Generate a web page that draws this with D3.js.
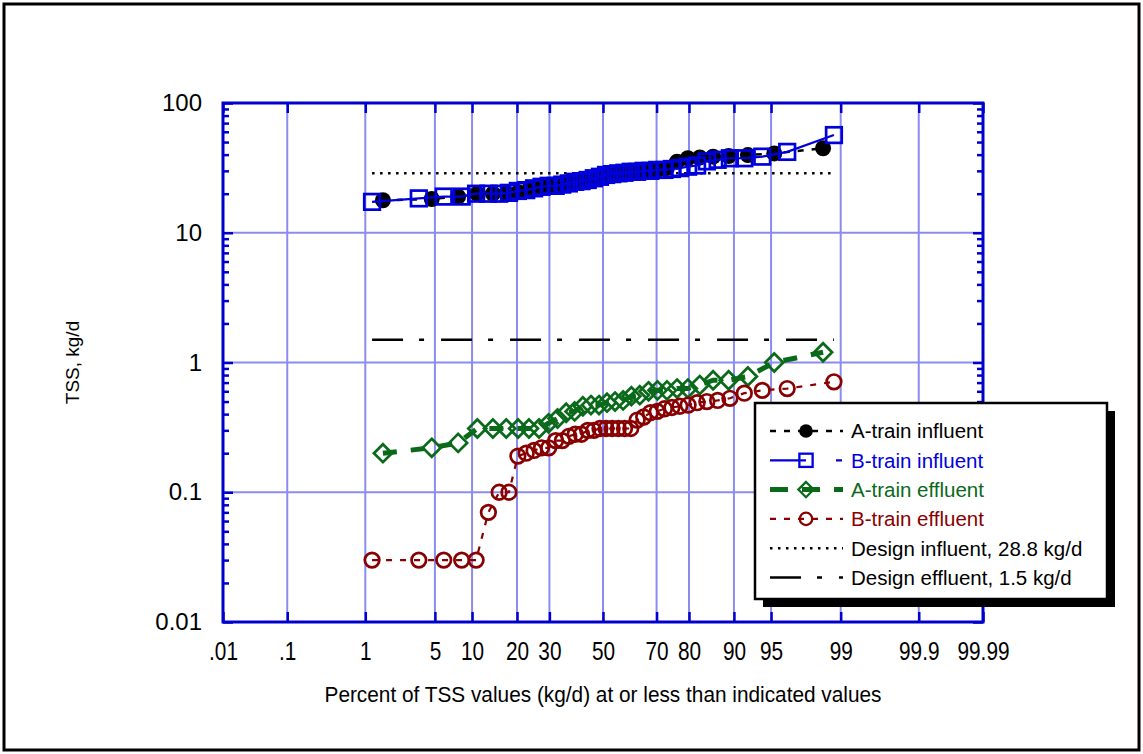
<!DOCTYPE html>
<html>
<head>
<meta charset="utf-8">
<script src="https://cdn.jsdelivr.net/npm/d3@7"></script>
<style>
  html, body { margin: 0; padding: 0; background: #fff; }
  svg { display: block; font-family: "Liberation Sans", Arial, sans-serif; }
</style>
</head>
<body>
<svg id="chart" width="1143" height="754"></svg>
<script>
// ---- data: sorted daily TSS loads (kg/d) ----
const aInfluent = [17.8, 18.2, 19.0, 20.0, 20.0, 20.2, 20.5, 21.5, 22.5, 23.0, 23.5, 24.0,
  24.5, 25.0, 26.0, 27.0, 27.5, 28.0, 28.5, 29.0, 29.5, 30.0, 30.5, 31.5,
  35.3, 37.5, 38.0, 38.6, 39.0, 39.7, 40.9, 44.8];
const bInfluent = [17.3, 18.4, 19.0, 19.0, 20.0, 20.0, 20.0, 20.3, 21.0, 21.3, 22.0, 22.6,
  23.0, 23.0, 23.5, 24.0, 24.7, 25.0, 25.5, 26.3, 27.0, 27.9, 28.3, 28.7,
  29.0, 29.5, 29.5, 30.0, 30.0, 30.5, 30.5, 31.0, 31.5, 32.3, 33.0, 35.5,
  36.5, 37.5, 37.5, 38.6, 42.0, 56.6];
const aEffluent = [0.20, 0.22, 0.24, 0.31, 0.31, 0.31, 0.31, 0.31, 0.31, 0.34, 0.37, 0.41,
  0.42, 0.46, 0.47, 0.47, 0.49, 0.50, 0.51, 0.55, 0.56, 0.60, 0.61, 0.61,
  0.63, 0.63, 0.67, 0.73, 0.73, 0.78, 1.0, 1.2];
const bEffluent = [0.03, 0.03, 0.03, 0.03, 0.03, 0.07, 0.10, 0.10, 0.19, 0.20, 0.21, 0.22,
  0.22, 0.25, 0.25, 0.27, 0.28, 0.28, 0.30, 0.30, 0.31, 0.31, 0.31, 0.31,
  0.31, 0.31, 0.36, 0.38, 0.41, 0.42, 0.44, 0.45, 0.46, 0.47, 0.49, 0.50,
  0.51, 0.53, 0.58, 0.61, 0.63, 0.71];

// design loads (kg/d)
const designInfluent = 28.8;
const designEffluent = 1.5;

// ---- axis ticks ----
const xTickPercents = [0.01, 0.1, 1, 5, 10, 20, 30, 50, 70, 80, 90, 95, 99, 99.9, 99.99];
const xTickLabels = [".01", ".1", "1", "5", "10", "20", "30", "50", "70", "80", "90", "95", "99", "99.9", "99.99"];
const yTickValues = [0.01, 0.1, 1, 10, 100];
const yTickLabels = ["0.01", "0.1", "1", "10", "100"];

const legendLabels = ["A-train influent", "B-train influent", "A-train effluent", "B-train effluent",
  "Design influent, 28.8 kg/d", "Design effluent, 1.5 kg/d"];

// ---- inverse standard normal CDF (Acklam) for the probability axis ----
function probit(p) {
  const a = [-3.969683028665376e+01, 2.209460984245205e+02, -2.759285104469687e+02, 1.383577518672690e+02, -3.066479806614716e+01, 2.506628277459239e+00];
  const b = [-5.447609879822406e+01, 1.615858368580409e+02, -1.556989798598866e+02, 6.680131188771972e+01, -1.328068155288572e+01];
  const c = [-7.784894002430293e-03, -3.223964580411365e-01, -2.400758277161838e+00, -2.549732539343734e+00, 4.374664141464968e+00, 2.938163982698783e+00];
  const d = [7.784695709041462e-03, 3.224671290700398e-01, 2.445134137142996e+00, 3.754408661907416e+00];
  const pl = 0.02425, ph = 1 - pl;
  if (p < pl) {
    const q = Math.sqrt(-2 * Math.log(p));
    return (((((c[0]*q+c[1])*q+c[2])*q+c[3])*q+c[4])*q+c[5]) / ((((d[0]*q+d[1])*q+d[2])*q+d[3])*q+1);
  }
  if (p <= ph) {
    const q = p - 0.5, r = q * q;
    return (((((a[0]*r+a[1])*r+a[2])*r+a[3])*r+a[4])*r+a[5])*q / (((((b[0]*r+b[1])*r+b[2])*r+b[3])*r+b[4])*r+1);
  }
  const q = Math.sqrt(-2 * Math.log(1 - p));
  return -(((((c[0]*q+c[1])*q+c[2])*q+c[3])*q+c[4])*q+c[5]) / ((((d[0]*q+d[1])*q+d[2])*q+d[3])*q+1);
}

// Hazen plotting positions (percent) for a sorted sample
const hazen = arr => arr.map((v, i) => ({ p: (i + 0.5) / arr.length * 100, v }));

// ---- layout ----
const plotL = 223, plotR = 983, plotT = 103, plotB = 622;
const svg = d3.select("#chart");

const xz = d3.scaleLinear().domain([probit(0.0001), probit(0.9999)]).range([plotL, plotR]);
const x = pct => xz(probit(pct / 100));
const y = d3.scaleLog().domain([0.01, 100]).range([plotB, plotT]);

const BLUE = "#0000cc", GRID = "#8c8cf0";
const C_A_INF = "#000000", C_B_INF = "#0000dd", C_A_EFF = "#0a6a1a", C_B_EFF = "#880000";

// outer frame
svg.append("rect").attr("x", 4).attr("y", 4).attr("width", 1135).attr("height", 746)
  .attr("fill", "#fff").attr("stroke", "#000").attr("stroke-width", 3);

// grid
const grid = svg.append("g");
xTickPercents.slice(1, -1).forEach(p => {
  grid.append("line").attr("x1", x(p)).attr("x2", x(p)).attr("y1", plotT).attr("y2", plotB)
    .attr("stroke", GRID).attr("stroke-width", 2);
});
yTickValues.slice(1, -1).forEach(v => {
  grid.append("line").attr("x1", plotL).attr("x2", plotR).attr("y1", y(v)).attr("y2", y(v))
    .attr("stroke", GRID).attr("stroke-width", 2);
});

// axes
const xTickZ = xTickPercents.map(p => probit(p / 100));
const gx = svg.append("g").attr("transform", `translate(0,${plotB})`)
  .call(d3.axisBottom(xz).tickValues(xTickZ).tickFormat((d, i) => xTickLabels[i])
    .tickSizeInner(-10).tickSizeOuter(0).tickPadding(20));
const gxTop = svg.append("g").attr("transform", `translate(0,${plotT})`)
  .call(d3.axisTop(xz).tickValues(xTickZ).tickFormat("").tickSizeInner(-10).tickSizeOuter(0));

const yMinor = [];
for (let dec = 0.01; dec < 100; dec *= 10) for (let k = 2; k <= 9; k++) yMinor.push(+(dec * k).toPrecision(3));

const gy = svg.append("g").attr("transform", `translate(${plotL},0)`)
  .call(d3.axisLeft(y).tickValues(yTickValues).tickFormat((d, i) => yTickLabels[i])
    .tickSizeInner(-10).tickSizeOuter(0).tickPadding(21));
const gyMinor = svg.append("g").attr("transform", `translate(${plotL},0)`)
  .call(d3.axisLeft(y).tickValues(yMinor).tickFormat("").tickSizeInner(-6).tickSizeOuter(0));
const gyR = svg.append("g").attr("transform", `translate(${plotR},0)`)
  .call(d3.axisRight(y).tickValues(yTickValues).tickFormat("").tickSizeInner(-10).tickSizeOuter(0));
const gyRMinor = svg.append("g").attr("transform", `translate(${plotR},0)`)
  .call(d3.axisRight(y).tickValues(yMinor).tickFormat("").tickSizeInner(-6).tickSizeOuter(0));

[gx, gxTop, gy, gyMinor, gyR, gyRMinor].forEach(g => {
  g.select(".domain").remove();
  g.selectAll(".tick line").attr("stroke", BLUE).attr("stroke-width", 2.5);
});
gy.selectAll(".tick text").attr("font-size", 24).attr("fill", "#000")
  .attr("font-family", "'Liberation Sans', Arial, sans-serif");
gx.selectAll(".tick text").attr("font-size", 26).attr("fill", "#000")
  .attr("font-family", "'Liberation Sans', Arial, sans-serif")
  .each(function () {
    const w = this.getComputedTextLength();
    d3.select(this).attr("textLength", w * 0.8).attr("lengthAdjust", "spacingAndGlyphs");
  });

// plot frame
svg.append("rect").attr("x", plotL).attr("y", plotT).attr("width", plotR - plotL).attr("height", plotB - plotT)
  .attr("fill", "none").attr("stroke", BLUE).attr("stroke-width", 3);

// axis titles
const xTitle = svg.append("text").attr("x", (plotL + plotR) / 2).attr("y", 702).attr("text-anchor", "middle")
  .attr("font-size", 22).text("Percent of TSS values (kg/d) at or less than indicated values");
xTitle.attr("textLength", 557).attr("lengthAdjust", "spacingAndGlyphs");
svg.append("text").attr("transform", `translate(79,${(plotT + plotB) / 2}) rotate(-90)`)
  .attr("text-anchor", "middle").attr("font-size", 19).text("TSS, kg/d");

// design lines, spanning the plotted range of the larger sample
const span = d3.extent(hazen(bInfluent), d => d.p);
svg.append("line").attr("x1", x(span[0])).attr("x2", x(span[1]))
  .attr("y1", y(designInfluent)).attr("y2", y(designInfluent))
  .attr("stroke", "#000").attr("stroke-width", 2.5).attr("stroke-dasharray", "2.5,5.5");
svg.append("line").attr("x1", x(span[0])).attr("x2", x(span[1]))
  .attr("y1", y(designEffluent)).attr("y2", y(designEffluent))
  .attr("stroke", "#000").attr("stroke-width", 2.5).attr("stroke-dasharray", "31,16,5,17");

// series
const line = d3.line().x(d => x(d.p)).y(d => y(d.v));
const series = [
  { data: hazen(aEffluent), color: C_A_EFF, width: 5, dash: "14,14", marker: "diamond" },
  { data: hazen(bEffluent), color: C_B_EFF, width: 2.2, dash: "6,8", marker: "circle" },
  { data: hazen(aInfluent), color: C_A_INF, width: 2.5, dash: "6,8", marker: "dot" },
  { data: hazen(bInfluent), color: C_B_INF, width: 2.2, dash: null, marker: "square" }
];

function drawMarker(g, kind, color, cx, cy) {
  if (kind === "dot") {
    g.append("circle").attr("cx", cx).attr("cy", cy).attr("r", 8).attr("fill", color);
  } else if (kind === "circle") {
    g.append("circle").attr("cx", cx).attr("cy", cy).attr("r", 7.3)
      .attr("fill", "none").attr("stroke", color).attr("stroke-width", 2.7);
  } else if (kind === "square") {
    g.append("rect").attr("x", cx - 7.8).attr("y", cy - 7.8).attr("width", 15.6).attr("height", 15.6)
      .attr("fill", "none").attr("stroke", color).attr("stroke-width", 2.7);
  } else if (kind === "diamond") {
    g.append("path").attr("d", `M${cx},${cy - 9}L${cx + 9},${cy}L${cx},${cy + 9}L${cx - 9},${cy}Z`)
      .attr("fill", "none").attr("stroke", color).attr("stroke-width", 2.7);
  }
}

series.forEach(s => {
  const g = svg.append("g");
  g.append("path").attr("d", line(s.data)).attr("fill", "none").attr("stroke", s.color)
    .attr("stroke-width", s.width).attr("stroke-dasharray", s.dash);
  s.data.forEach(d => drawMarker(g, s.marker, s.color, x(d.p), y(d.v)));
});

// legend
const lg = svg.append("g");
lg.append("rect").attr("x", 763).attr("y", 411).attr("width", 352).attr("height", 196).attr("fill", "#000");
lg.append("rect").attr("x", 755).attr("y", 403).attr("width", 352).attr("height", 196)
  .attr("fill", "#fff").attr("stroke", "#000").attr("stroke-width", 2.5);

const legendItems = [
  { color: C_A_INF, text: "#000", width: 2.5, dash: "6,8", marker: "dot" },
  { color: C_B_INF, text: C_B_INF, width: 2.2, dash: "36,30,6,20", marker: "square" },
  { color: C_A_EFF, text: C_A_EFF, width: 5, dash: "18,14", marker: "diamond" },
  { color: C_B_EFF, text: C_B_EFF, width: 2.2, dash: "6,8", marker: "circle" },
  { color: "#000", text: "#000", width: 2.5, dash: "2.5,5.5", marker: null },
  { color: "#000", text: "#000", width: 2.5, dash: "31,16,5,17", marker: null }
];
legendItems.forEach((it, i) => {
  const cy = 431 + i * 29.3;
  lg.append("line").attr("x1", 770).attr("x2", 843).attr("y1", cy).attr("y2", cy)
    .attr("stroke", it.color).attr("stroke-width", it.width).attr("stroke-dasharray", it.dash);
  if (it.marker) {
    const m = lg.append("g");
    drawMarker(m, it.marker, it.color, 806, cy);
    m.selectAll("*").attr("transform", `translate(806,${cy}) scale(0.85) translate(-806,${-cy})`);
  }
  lg.append("text").attr("x", 851).attr("y", cy).attr("dy", "0.36em").attr("font-size", 20.5)
    .attr("fill", it.text).text(legendLabels[i]);
});
</script>
</body>
</html>
